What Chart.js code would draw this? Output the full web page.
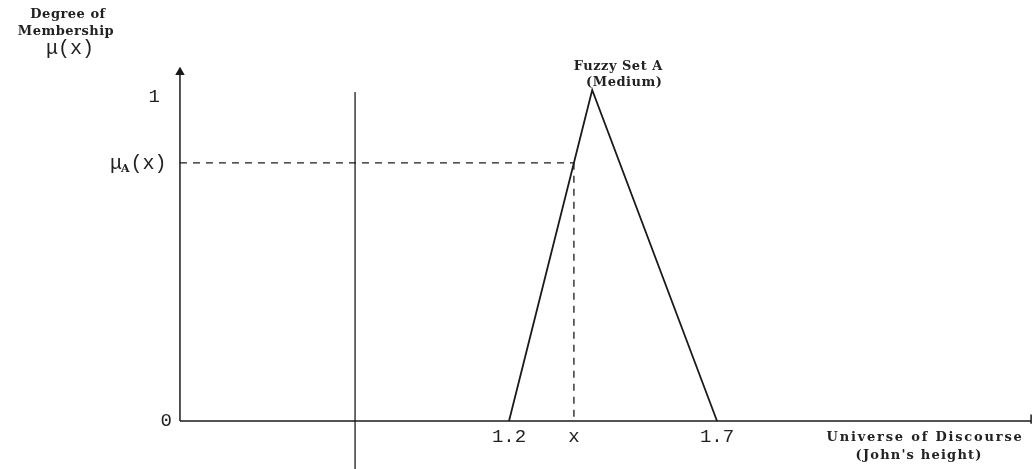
<!DOCTYPE html>
<html>
<head>
<meta charset="utf-8">
<script src="https://cdn.jsdelivr.net/npm/chart.js@4/dist/chart.umd.min.js"></script>
<style>
  html, body { margin: 0; padding: 0; background: #fff; }
  #c { display: block; }
</style>
</head>
<body>
<canvas id="c" width="1035" height="469"></canvas>
<script>
// ---- data (universe of discourse = height in m, membership degree 0..1) ----
const triangleX = [1.2, 1.4, 1.7];        // fuzzy set A (Medium) corners
const triangleY = [0, 1, 0];
const sampleX = 1.356;                     // the "x" marked on the axis
const sampleMu = 0.78;                     // mu_A(x)
const xTickValues = [1.2, sampleX, 1.7];
const xTickLabels = ['1.2', 'x', '1.7'];
const yTickValues = [0, 1];
const yTickLabels = ['0', '1'];
const axisOriginX = 0.409;                 // where the vertical axis stands
const axisEndX = 2.455;                    // end of horizontal axis
const axisTopY = 1.054;                    // tip of vertical axis arrow
const scanLineX = 0.83;                    // stray vertical line in the scan
const scanLineY = [0.994, -0.145];

const X_MIN = -0.0236, X_MAX = 2.4644, Y_MIN = -0.145, Y_MAX = 1.2719;

const pts = (xs, ys) => xs.map((x, i) => ({ x, y: ys[i] }));
const ink = '#1a1a1a';

const textPlugin = {
  id: 'texts',
  afterDraw(chart) {
    const ctx = chart.ctx;
    const X = v => chart.scales.x.getPixelForValue(v);
    const Y = v => chart.scales.y.getPixelForValue(v);
    const ox = X(axisOriginX), oy = Y(0);
    const ls = v => { if ('letterSpacing' in ctx) ctx.letterSpacing = v; };
    ctx.save();
    ctx.fillStyle = '#222';
    ctx.textBaseline = 'middle';
    const mono = '"Liberation Mono", "DejaVu Sans Mono", monospace';
    const serifB = 'bold 13px "DejaVu Serif", "Liberation Serif", serif';

    // x tick labels
    ctx.font = '19px ' + mono;
    ctx.textAlign = 'center';
    xTickValues.forEach((v, i) => ctx.fillText(xTickLabels[i], X(v), oy + 16));

    // y tick labels
    ctx.textAlign = 'right';
    ctx.fillText(yTickLabels[0], ox - 8, Y(yTickValues[0]));
    ctx.fillText(yTickLabels[1], ox - 20, Y(yTickValues[1]) + 7);

    // mu_A(x)
    ctx.textAlign = 'left';
    const my = Y(sampleMu) + 1;
    let px = ox - 70;
    ctx.font = '20px ' + mono;
    ctx.fillText('\u03BC', px, my); px += ctx.measureText('\u03BC').width - 1;
    ctx.font = 'bold 11px "DejaVu Serif", serif';
    ctx.fillText('A', px, my + 5); px += ctx.measureText('A').width + 1;
    ctx.font = '20px ' + mono;
    ctx.fillText('(x)', px, my);

    // axis title (vertical)
    ctx.textAlign = 'center';
    ctx.font = serifB;
    ls('0.5px');
    ctx.fillText('Degree of', 68, 15);
    ctx.fillText('Membership', 66, 32);
    ls('0px');
    ctx.font = '20px ' + mono;
    ctx.fillText('\u03BC(x)', 70, 49);

    // fuzzy set title
    ctx.font = serifB;
    ls('0.5px');
    ctx.fillText('Fuzzy Set A', X(1.4) + 26, Y(1) - 23);
    ctx.fillText('(Medium)', X(1.4) + 32, Y(1) - 7);

    // horizontal axis title
    ls('1.8px');
    ctx.fillText('Universe of Discourse', X(axisEndX) - 106, oy + 17);
    ls('1.2px');
    ctx.fillText("(John's height)", X(axisEndX) - 112, oy + 35);
    ctx.restore();
  }
};

const lineDs = (data, extra) => Object.assign({
  data, showLine: true, borderColor: ink, backgroundColor: ink,
  borderWidth: 1.5, pointRadius: 0, fill: false, tension: 0, clip: false
}, extra || {});

new Chart(document.getElementById('c'), {
  type: 'scatter',
  data: {
    datasets: [
      lineDs(pts(triangleX, triangleY), { borderWidth: 1.8 }),
      lineDs(pts([axisOriginX, axisEndX], [0, 0])),
      lineDs(pts([axisOriginX, axisOriginX], [0, axisTopY]), {
        pointRadius: [0, 4], pointStyle: 'triangle', borderWidth: 1.5
      }),
      lineDs(pts([axisOriginX, sampleX], [sampleMu, sampleMu]), { borderDash: [7, 6], borderWidth: 1.3 }),
      lineDs(pts([sampleX, sampleX], [sampleMu, 0]), { borderDash: [7, 6], borderWidth: 1.3 }),
      lineDs(pts([scanLineX, scanLineX], scanLineY), { borderColor: '#555', borderWidth: 1 }),
      lineDs(pts([axisEndX, axisEndX], [0.02, -0.008]), { borderWidth: 1.5 })
    ]
  },
  options: {
    responsive: false,
    animation: false,
    devicePixelRatio: 1,
    layout: { padding: 0, autoPadding: false },
    plugins: { legend: { display: false }, tooltip: { enabled: false } },
    scales: {
      x: { type: 'linear', min: X_MIN, max: X_MAX, display: false },
      y: { type: 'linear', min: Y_MIN, max: Y_MAX, display: false }
    }
  },
  plugins: [textPlugin]
});
</script>
</body>
</html>
